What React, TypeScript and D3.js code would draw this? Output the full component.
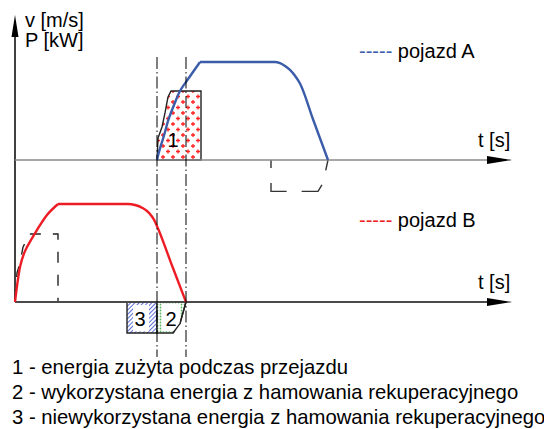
import React from "react";
import { scaleLinear, line, curveMonotoneX, curveNatural, curveLinear } from "d3";

// time [s] -> speed [m/s] / power [kW] (arbitrary units)
const speedA: [number, number][] = [
  [28.4, 0], [28.8, 0.82], [29.4, 1.84], [30, 2.86], [30.6, 3.98], [31.4, 5.1],
  [32.2, 6.12], [33, 7.04], [34.2, 7.96], [35.6, 8.98], [37, 10],
];
const speedAFall: [number, number][] = [
  [37, 10], [52, 10], [53, 9.88], [54, 9.6], [55, 9.2], [56, 8.6], [57, 7.8], [59.6, 4.16], [62.6, 0],
];
const speedB: [number, number][] = [
  [0, 0], [1, 3.57], [2.4, 5.61], [4.4, 7.35], [6.4, 8.88], [8.6, 10],
];
const speedBFall: [number, number][] = [
  [8.6, 10], [22.6, 10], [24, 9.9], [25.5, 9.6], [26.8, 9.1], [27.8, 8.4], [28.6, 7.5], [31.4, 3.72], [34.2, 0],
];
const powerA: [number, number][] = [
  [28.4, 0], [28.6, 2.24], [29.4, 3.37], [30, 4.8], [30.6, 6.43], [31.2, 7.04], [37.2, 7.04], [37.2, 0],
];
const powerARegen: [number, number][] = [
  [51.2, 0], [51.2, -3.2], [60.6, -3.2], [61.6, -2.35], [62.6, 0],
];
const powerB: [number, number][] = [
  [0, 0], [0.4, 2.96], [1, 3.98], [1.6, 5.6], [2.6, 6.6], [2.8, 6.94], [8.6, 6.94], [8.6, 0],
];
const lostB: [number, number][] = [
  [22.4, 0], [22.4, -3.16], [28.4, -3.16], [28.4, 0],
];
const usedB: [number, number][] = [
  [28.4, 0], [28.4, -3.16], [31.6, -3.16], [33, -2.2], [34.2, 0],
];
const markTimes = [28.4, 34.2];
const boxLabels = [
  { text: "1", t: 31.6, p: 1.35, panel: "top" },
  { text: "3", t: 25, p: -2.45, panel: "bottom" },
  { text: "2", t: 31.2, p: -2.45, panel: "bottom" },
];
const notes = [
  "1 - energia zużyta podczas przejazdu",
  "2 - wykorzystana energia z hamowania rekuperacyjnego",
  "3 - niewykorzystana energia z hamowania rekuperacyjnego",
];

const width = 544;
const height = 429;
const font = "'Liberation Sans', Arial, sans-serif";
const blue = "#3a5ca9";
const red = "#ee1d25";

export default function App() {
  const x = scaleLinear().domain([0, 100]).range([15, 515]);
  const yTop = scaleLinear().domain([0, 10]).range([160, 62]);
  const yBot = scaleLinear().domain([0, 10]).range([302, 204]);

  const path = (y: any, curve: any) =>
    line<[number, number]>()
      .x((d) => x(d[0]))
      .y((d) => y(d[1]))
      .curve(curve);

  const x0 = x(0);
  const xEnd = x(99.4);

  return (
    <svg
      width={width}
      height={height}
      style={{ position: "absolute", left: 0, top: 0, background: "#fff" }}
      fontFamily={font}
    >
      <defs>
        <pattern id="plus" width="10" height="11" patternUnits="userSpaceOnUse">
          <path d="M1,3h4M3,1v4M6,8.5h4M8,6.5v4" stroke="#f22" strokeWidth="1.3" />
        </pattern>
        <pattern id="dots" width="3" height="3" patternUnits="userSpaceOnUse">
          <rect width="3" height="3" fill="#fff" />
          <circle cx="1.5" cy="1.5" r="0.9" fill="#5cb85c" />
        </pattern>
        <pattern id="hatch" width="3" height="3" patternUnits="userSpaceOnUse" patternTransform="rotate(45)">
          <rect width="3" height="3" fill="#fff" />
          <line x1="0.5" y1="0" x2="0.5" y2="3" stroke="#5b6fd6" strokeWidth="1" />
        </pattern>
      </defs>

      {/* power areas */}
      <path d={path(yTop, curveLinear)(powerA) + "Z"} fill="url(#plus)" stroke="#222" strokeWidth={1.4} />
      <path d={path(yBot, curveLinear)(lostB) ?? ""} fill="url(#hatch)" stroke="#222" strokeWidth={1.4} />
      <path d={path(yBot, curveLinear)(usedB) ?? ""} fill="url(#dots)" stroke="#222" strokeWidth={1.4} />
      <rect x={x(23.6)} y={yBot(-0.3)} width={x(26.8) - x(23.6)} height={yBot(-3.0) - yBot(-0.3)} fill="#fff" />
      <rect x={x(29.4)} y={yBot(-0.2)} width={x(33) - x(29.4)} height={yBot(-3.0) - yBot(-0.2)} fill="#fff" />
      <path d={path(yBot, curveLinear)(usedB.slice(2)) ?? ""} fill="none" stroke="#222" strokeWidth={1.4} />

      {/* dashed power outlines */}
      <path
        d={path(yTop, curveLinear)(powerARegen) ?? ""}
        fill="none"
        stroke="#333"
        strokeWidth={1.4}
        strokeDasharray="24 15"
        strokeDashoffset={16}
      />
      <path
        d={path(yBot, curveLinear)(powerB) ?? ""}
        fill="none"
        stroke="#222"
        strokeWidth={1.4}
        strokeDasharray="11 12"
        strokeDashoffset={-2}
      />

      {/* axes */}
      <line x1={x0} y1={36} x2={x0} y2={yBot(0)} stroke="#000" strokeWidth={1.5} />
      <polygon points={`${x0},15 ${x0 - 3.5},37 ${x0 + 3.5},37`} fill="#000" />
      <line x1={x0} y1={yTop(0)} x2={xEnd - 20} y2={yTop(0)} stroke="#8a8a8a" strokeWidth={1.5} />
      <polygon points={`${xEnd},${yTop(0)} ${xEnd - 25},${yTop(0) - 4} ${xEnd - 25},${yTop(0) + 4}`} fill="#000" />
      <line x1={x0} y1={yBot(0)} x2={xEnd - 20} y2={yBot(0)} stroke="#4a4a4a" strokeWidth={1.8} />
      <polygon points={`${xEnd},${yBot(0)} ${xEnd - 25},${yBot(0) - 4} ${xEnd - 25},${yBot(0) + 4}`} fill="#000" />

      {/* speed curves */}
      <path d={path(yTop, curveNatural)(speedA) ?? ""} fill="none" stroke={blue} strokeWidth={2.4} />
      <path d={path(yTop, curveMonotoneX)(speedAFall) ?? ""} fill="none" stroke={blue} strokeWidth={2.4} />
      <path d={path(yBot, curveNatural)(speedB) ?? ""} fill="none" stroke={red} strokeWidth={2.4} />
      <path d={path(yBot, curveMonotoneX)(speedBFall) ?? ""} fill="none" stroke={red} strokeWidth={2.4} />

      {/* dash-dot time markers */}
      {markTimes.map((t) => (
        <line
          key={t}
          x1={x(t)}
          x2={x(t)}
          y1={57}
          y2={357}
          stroke="#000"
          strokeWidth={1}
          strokeDasharray="12 3 1.5 3"
        />
      ))}

      {/* box labels */}
      {boxLabels.map((l) => (
        <text
          key={l.text}
          x={x(l.t)}
          y={(l.panel === "top" ? yTop : yBot)(l.p)}
          fontSize={20}
          textAnchor="middle"
          fill="#000"
        >
          {l.text}
        </text>
      ))}

      {/* axis titles */}
      <text x={25} y={27} fontSize={20}>v [m/s]</text>
      <text x={25} y={47} fontSize={20}>P [kW]</text>
      <text x={478} y={147} fontSize={20}>t [s]</text>
      <text x={478} y={289} fontSize={20}>t [s]</text>

      {/* legend */}
      <text x={359} y={58} fontSize={20}>
        <tspan fill={blue}>-----</tspan>
        <tspan fill="#000"> pojazd A</tspan>
      </text>
      <text x={359} y={227} fontSize={20}>
        <tspan fill={red}>-----</tspan>
        <tspan fill="#000"> pojazd B</tspan>
      </text>

      {/* notes */}
      {notes.map((n, i) => (
        <text key={n} x={12} y={374 + i * 25} fontSize={20.3} fill="#000">
          {n}
        </text>
      ))}
    </svg>
  );
}
